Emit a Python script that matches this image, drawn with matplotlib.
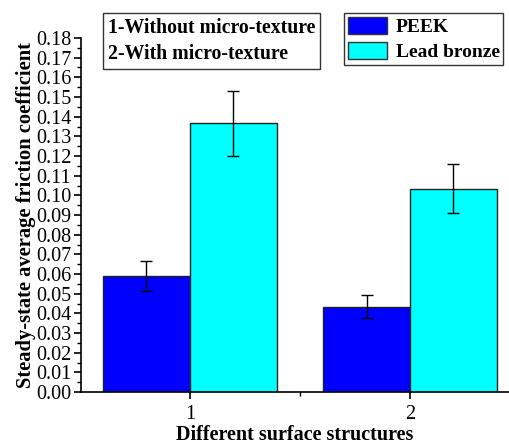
import numpy as np
import matplotlib
matplotlib.use('Agg')
import matplotlib.pyplot as plt
from matplotlib.patches import Patch
from matplotlib.ticker import MultipleLocator, FormatStrFormatter

plt.rcParams['font.family'] = ['Liberation Serif', 'DejaVu Serif']

groups = [1, 2]
group_labels = ['1', '2']
peek_mean = [0.0590, 0.0434]
peek_err = [0.0077, 0.0057]
bronze_mean = [0.1367, 0.1033]
bronze_err = [0.0165, 0.0124]
series_names = ['PEEK', 'Lead bronze']
series_colors = ['#0000FF', '#00FFFF']
note_lines = ['1-Without micro-texture', '2-With micro-texture']

fig = plt.figure(figsize=(5.09, 4.47), dpi=100)
ax = fig.add_axes([0.1591, 0.1230, 0.8409, 0.792])

x = np.array(groups, dtype=float)
w = 0.395
err_kw = dict(ecolor='black', elinewidth=1, capsize=4, capthick=1)
ax.bar(x - w / 2, peek_mean, w, yerr=peek_err, color=series_colors[0],
       edgecolor='#222222', linewidth=1, error_kw=err_kw, zorder=2)
ax.bar(x + w / 2, bronze_mean, w, yerr=bronze_err, color=series_colors[1],
       edgecolor='#222222', linewidth=1, error_kw=err_kw, zorder=2)

ax.set_xlim(0.505, 2.45)
ax.set_ylim(0, 0.18)
ax.set_xticks(x)
ax.set_xticklabels(group_labels)
ax.xaxis.set_minor_locator(MultipleLocator(0.5))
ax.yaxis.set_major_locator(MultipleLocator(0.01))
ax.yaxis.set_minor_locator(MultipleLocator(0.005))
ax.yaxis.set_major_formatter(FormatStrFormatter('%.2f'))

for s in ['top', 'right']:
    ax.spines[s].set_visible(False)
ax.spines['left'].set_linewidth(1.2)
ax.spines['bottom'].set_linewidth(1.2)
ax.tick_params(axis='both', which='major', direction='out', length=5, width=1.2,
               labelsize=14.5, pad=2)
ax.tick_params(axis='x', which='major', pad=4)
ax.tick_params(axis='both', which='minor', direction='out', length=3, width=1)

ax.set_xlabel('Different surface structures', fontsize=14.5, fontweight='bold', labelpad=1)
ax.set_ylabel('Steady-state average friction coefficient', fontsize=14.8,
              fontweight='bold', labelpad=0)

# note box (no handles)
note_handles = [Patch(visible=False) for _ in note_lines]
leg1 = fig.legend(note_handles, note_lines, loc='upper left',
                  bbox_to_anchor=(103 / 509, 1 - 13 / 447),
                  handlelength=0, handletextpad=0, frameon=True, fancybox=False,
                  edgecolor='black', borderpad=0.25, labelspacing=0.3,
                  borderaxespad=0, prop=dict(weight='bold', size=14.2))
leg1.get_frame().set_linewidth(1)

ser_handles = [Patch(facecolor=c, edgecolor='#333333') for c in series_colors]
leg2 = fig.legend(ser_handles, series_names, loc='upper left',
                  bbox_to_anchor=(344 / 509, 1 - 13 / 447),
                  handlelength=2.0, handleheight=1.0, handletextpad=0.45,
                  frameon=True, fancybox=False, edgecolor='black',
                  borderpad=0.2, labelspacing=0.3, borderaxespad=0,
                  prop=dict(weight='bold', size=14))
leg2.get_frame().set_linewidth(1)

fig.savefig('out.png', dpi=100)
